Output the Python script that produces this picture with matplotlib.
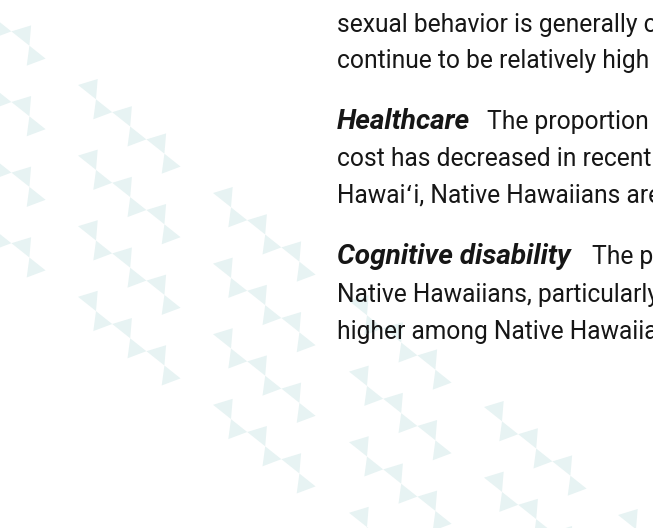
import matplotlib
matplotlib.use("Agg")
import matplotlib.pyplot as plt
from matplotlib.patches import Polygon

W, H = 653, 528
DPI = 100

# ---- decorative triangle pattern (pixel units of the page) ----
n_columns = 6
column_start_x = [-57, 78, 213, 349, 484, 618]
column_start_y = [-23, 85, 193, 301, 407, 515]
chain_offsets_y = [0, 70.6, 141.2, 211.8]
units_per_chain = 3
unit_step = (34.2, 27.2)
left_tri = [(0, 0), (19.7, -6.0), (18.0, 14.3)]
right_tri = [(18.0, 14.3), (15.3, 34.3), (34.2, 27.2)]
tri_color = "#E7F3F3"

# ---- text content ----
lines_plain = [
    (32, 337, "sexual behavior is generally c"),
    (68, 337, "continue to be relatively high"),
    (166, 337, "cost has decreased in recent y"),
    (203, 337, "Hawai\u02bbi, Native Hawaiians are"),
    (302, 337, "Native Hawaiians, particularly"),
    (339, 337, "higher among Native Hawaiia"),
]
heads = [
    (129, 337, "Healthcare", 487, "The proportion"),
    (264, 337, "Cognitive disability", 592, "The p"),
]
text_color = "#161616"
family = ["Roboto", "DejaVu Sans"]

fig = plt.figure(figsize=(W / DPI, H / DPI), dpi=DPI)
ax = fig.add_axes([0, 0, 1, 1])
ax.set_xlim(0, W)
ax.set_ylim(H, 0)
ax.axis("off")

for c in range(n_columns):
    for off in chain_offsets_y:
        px, py = column_start_x[c], column_start_y[c] + off
        for u in range(units_per_chain):
            bx = px + u * unit_step[0]
            by = py + u * unit_step[1]
            for tri in (left_tri, right_tri):
                ax.add_patch(Polygon([(bx + dx, by + dy) for dx, dy in tri],
                                     closed=True, facecolor=tri_color,
                                     edgecolor="none", zorder=1))

renderer = fig.canvas.get_renderer()


def fit_size(s, target_w, **kw):
    t = ax.text(0, 0, s, fontsize=20, family=family, **kw)
    w = t.get_window_extent(renderer).width
    t.remove()
    return 20 * target_w / w


size_reg = fit_size("sexual behavior is generally", 301)
size_bold = fit_size("Cognitive disability", 233, fontweight="bold", fontstyle="italic")

for y, x, s in lines_plain:
    ax.text(x, y, s, fontsize=size_reg, family=family, color=text_color,
            va="baseline", ha="left", zorder=3)
for y, x, h, x2, s in heads:
    ax.text(x, y, h, fontsize=size_bold, family=family, color=text_color,
            fontweight="bold", fontstyle="italic", va="baseline", ha="left", zorder=3)
    ax.text(x2, y, s, fontsize=size_reg, family=family, color=text_color,
            va="baseline", ha="left", zorder=3)

fig.savefig("out.png", dpi=DPI, facecolor="white")
